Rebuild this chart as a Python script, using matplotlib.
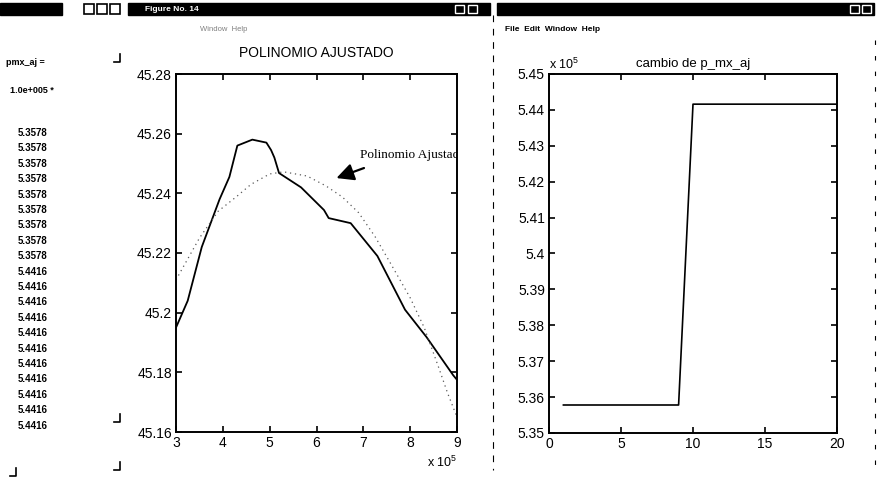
import matplotlib.pyplot as plt
from matplotlib.patches import Rectangle

plt.rcParams['font.family'] = ['Liberation Sans', 'DejaVu Sans']
plt.rcParams['mathtext.fontset'] = 'custom'
plt.rcParams['mathtext.rm'] = 'Liberation Sans'

# datos medidos (x en unidades de 1e5)
x_datos = [3.0, 3.25, 3.55, 3.93, 4.14, 4.31, 4.63, 4.93, 5.03, 5.10, 5.20,
           5.67, 6.16, 6.26, 6.73, 7.30, 7.89, 8.35, 8.92, 9.0]
y_datos = [45.195, 45.204, 45.222, 45.238, 45.2455, 45.256, 45.258, 45.257,
           45.2545, 45.252, 45.2468, 45.242, 45.2344, 45.2317, 45.230, 45.219,
           45.201, 45.1918, 45.179, 45.1775]

# polinomio ajustado
x_pol = [3.0, 3.25, 3.5, 3.9, 4.3, 4.6, 5.0, 5.3, 5.8, 6.2, 6.55, 6.9, 7.25,
         7.6, 8.0, 8.3, 8.6, 8.8, 9.0]
y_pol = [45.211, 45.218, 45.225, 45.234, 45.239, 45.243, 45.2465, 45.2472,
         45.2458, 45.2425, 45.2388, 45.2335, 45.2255, 45.216, 45.205, 45.195,
         45.182, 45.173, 45.165]

# cambio de p_mx_aj (x 10^5)
iteracion = list(range(1, 21))
p_mx_aj = [5.3578] * 9 + [5.4416] * 11

ticks_y1 = [45.16, 45.18, 45.20, 45.22, 45.24, 45.26, 45.28]
etiq_y1 = ['45.16', '45.18', '45.2', '45.22', '45.24', '45.26', '45.28']
ticks_y2 = [5.35, 5.36, 5.37, 5.38, 5.39, 5.40, 5.41, 5.42, 5.43, 5.44, 5.45]
etiq_y2 = ['5.35', '5.36', '5.37', '5.38', '5.39', '5.4', '5.41', '5.42',
           '5.43', '5.44', '5.45']

W, H = 879, 479
fig = plt.figure(figsize=(W / 100, H / 100), dpi=100)

# capa de fondo con las ventanas (coordenadas en pixeles)
bg = fig.add_axes([0, 0, 1, 1], zorder=0)
bg.set_xlim(0, W)
bg.set_ylim(H, 0)
bg.axis('off')
bg.add_patch(Rectangle((0, 3), 62, 12, color='k'))
bg.add_patch(Rectangle((128, 3), 362, 12, color='k'))
bg.add_patch(Rectangle((497, 3), 377, 12, color='k'))
for xb in [84, 97, 110]:
    bg.add_patch(Rectangle((xb, 4), 10, 10, fill=False, ec='k', lw=1.2))
for xb in [455, 468, 850, 862]:
    bg.add_patch(Rectangle((xb, 5), 9, 8, fill=False, ec='w', lw=1))
bg.text(145, 9, 'Figure No. 14', color='w', fontsize=6, fontweight='bold', va='center')
bg.text(505, 29, 'File  Edit  Window  Help', fontsize=6, fontweight='bold', va='center')
bg.text(200, 29, 'Window  Help', fontsize=5.5, color='0.5', va='center')
bg.plot([493, 493], [15, 470], color='k', lw=0.8, ls=(0, (6, 6)))
bg.plot([875, 875], [40, 470], color='k', lw=0.8, ls=(0, (4, 10)))

# columna de valores de la ventana de comandos
bg.text(6, 62, 'pmx_aj =', fontsize=6.5, fontweight='bold', va='center')
bg.text(10, 90, '1.0e+005 *', fontsize=6.5, fontweight='bold', va='center')
for i, v in enumerate(p_mx_aj):
    bg.text(18, 133 + i * 15.4, '%.4f' % v, fontsize=7, fontweight='bold', va='center')
for (cx, cy) in [(120, 62), (120, 422), (120, 470), (16, 476)]:
    bg.plot([cx - 6, cx, cx], [cy, cy, cy - 8], color='k', lw=1.2)

# grafico del polinomio
ax1 = fig.add_axes([176 / W, 1 - 432 / H, 281 / W, 358 / H], zorder=2)
ax1.plot(x_datos, y_datos, color='k', lw=1.3)
ax1.plot(x_pol, y_pol, color='0.35', lw=0.9, ls=(0, (1, 3)))
ax1.set_xlim(3, 9)
ax1.set_ylim(45.16, 45.28)
ax1.set_yticks(ticks_y1)
ax1.set_yticklabels(etiq_y1)
ax1.set_xticks(range(3, 10))
ax1.set_title('POLINOMIO AJUSTADO', fontsize=10, pad=12)
ax1.annotate('', xy=(6.37, 45.2448), xytext=(7.07, 45.2488),
             arrowprops=dict(arrowstyle='-|>', color='k', lw=1.6, mutation_scale=26))
ax1.text(6.92, 45.2529, 'Polinomio Ajustado', family='Liberation Serif',
         fontsize=9.5, va='center', clip_on=True)
ax1.text(1.0, -0.085, r'x 10$^5$', transform=ax1.transAxes, ha='right',
         va='center', fontsize=9)

# grafico del cambio de p_mx_aj
ax2 = fig.add_axes([549 / W, 1 - 433 / H, 288 / W, 359 / H], zorder=2)
ax2.plot(iteracion, p_mx_aj, color='k', lw=1.2)
ax2.set_xlim(0, 20)
ax2.set_ylim(5.35, 5.45)
ax2.set_yticks(ticks_y2)
ax2.set_yticklabels(etiq_y2)
ax2.set_xticks([0, 5, 10, 15, 20])
ax2.set_title('cambio de p_mx_aj', fontsize=9.5, pad=5)
ax2.text(0.0, 1.005, r'x 10$^5$', transform=ax2.transAxes, ha='left',
         va='bottom', fontsize=9)

for ax in [ax1, ax2]:
    ax.tick_params(direction='in', top=True, right=True, length=4,
                   labelsize=10, width=1.2, pad=3)
    for s in ax.spines.values():
        s.set_linewidth(1.4)

fig.savefig('out.png', dpi=100)
